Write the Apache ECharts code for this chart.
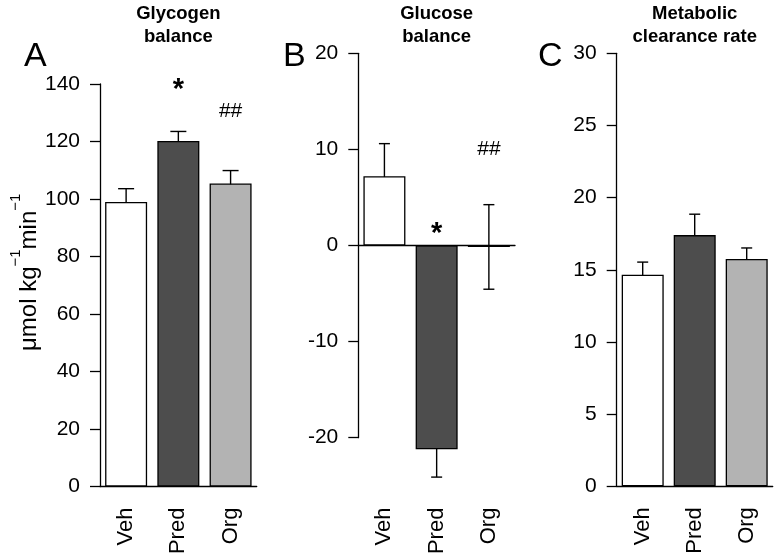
<!DOCTYPE html>
<html>
<head>
<meta charset="utf-8">
<script src="https://cdn.jsdelivr.net/npm/echarts@6/dist/echarts.min.js"></script>
<style>
html,body{margin:0;padding:0;background:#fff;}
#chart{width:778px;height:560px;}
</style>
</head>
<body>
<div id="chart"></div>
<script>
// ---- data ----
const categories = ['Veh', 'Pred', 'Org'];

const glycogenMean = [99, 120.2, 105.4];
const glycogenErr = [4.6, 3.3, 4.5];
const glycogenTicks = [0, 20, 40, 60, 80, 100, 120, 140];
const glycogenSig = ['', '*', '##'];
const glycogenSigY = [null, 140, 130.4];

const glucoseMean = [7.2, -21.2, -0.15];
const glucoseErr = [3.4, 2.9, 4.4];
const glucoseTicks = [-20, -10, 0, 10, 20];
const glucoseSig = ['', '*', '##'];
const glucoseSigY = [null, 1.84, 10.0];

const clearanceMean = [14.65, 17.4, 15.75];
const clearanceErr = [0.88, 1.45, 0.76];
const clearanceTicks = [0, 5, 10, 15, 20, 25, 30];

const panelTitles = ['Glycogen\nbalance', 'Glucose\nbalance', 'Metabolic\nclearance rate'];
const panelLetters = ['A', 'B', 'C'];
const yTitle = ['μmol kg', '−1', 'min', '−1'];

// ---- styles ----
const FONT = '"Liberation Sans", Arial, Helvetica, sans-serif';
const barColors = ['#ffffff', '#4d4d4d', '#b3b3b3'];
const grids = [
  {left: 100, top: 84, width: 156.7, height: 402.6},
  {left: 358.3, top: 53.3, width: 156.7, height: 384.4},
  {left: 616.7, top: 53.3, width: 156, height: 432.9}
];
const gridBottom = 486.6;

function tickAxis(ticks) {
  return {min: ticks[0], max: ticks[ticks.length - 1], interval: ticks[1] - ticks[0]};
}

function yAxisCfg(gi, ticks, extra) {
  return Object.assign({
    type: 'value', gridIndex: gi,
    splitLine: {show: false},
    axisLine: {show: true, lineStyle: {color: '#000', width: 1.3}},
    axisTick: {show: true, length: 10, lineStyle: {color: '#000', width: 1.3}},
    axisLabel: {fontSize: 21, color: '#000', margin: 20, fontFamily: FONT}
  }, tickAxis(ticks), extra || {});
}

const xLabel = {show: true, rotate: 90, fontSize: 22, color: '#000', margin: 21, fontFamily: FONT};

function xAxisCfg(gi, opts) {
  return Object.assign({
    type: 'category', gridIndex: gi, data: categories,
    axisTick: {show: false},
    axisLine: {show: true, lineStyle: {color: '#000', width: 1.3}},
    axisLabel: xLabel
  }, opts || {});
}

function barSeries(xi, yi, means) {
  return {
    type: 'bar', xAxisIndex: xi, yAxisIndex: yi, barWidth: 42, clip: false,
    data: means.map((v, i) => ({value: v, itemStyle: {color: barColors[i]}})),
    itemStyle: {borderColor: '#000', borderWidth: 1.3},
    silent: true
  };
}

function errSeries(xi, yi, means, errs, capW) {
  return {
    type: 'custom', xAxisIndex: xi, yAxisIndex: yi, clip: false, silent: true,
    data: means.map((m, i) => [i, m - errs[i], m + errs[i]]),
    encode: {x: 0, y: [1, 2]},
    renderItem: function (params, api) {
      const x = api.value(0);
      const lo = api.coord([x, api.value(1)]);
      const hi = api.coord([x, api.value(2)]);
      const h = capW / 2;
      const st = {stroke: '#000', lineWidth: 1.4};
      return {type: 'group', children: [
        {type: 'line', shape: {x1: lo[0], y1: lo[1], x2: hi[0], y2: hi[1]}, style: st},
        {type: 'line', shape: {x1: lo[0] - h, y1: lo[1], x2: lo[0] + h, y2: lo[1]}, style: st},
        {type: 'line', shape: {x1: hi[0] - h, y1: hi[1], x2: hi[0] + h, y2: hi[1]}, style: st}
      ]};
    }
  };
}

function sigSeries(xi, yi, sigs, sigY) {
  const items = [];
  sigs.forEach((s, i) => { if (s) items.push([i, sigY[i], s]); });
  return {
    type: 'custom', xAxisIndex: xi, yAxisIndex: yi, clip: false, silent: true,
    data: items.map(d => [d[0], d[1]]),
    renderItem: function (params, api) {
      const p = api.coord([api.value(0), api.value(1)]);
      const s = items[params.dataIndex][2];
      const star = s === '*';
      const fs = star ? 29 : 21;
      return {type: 'text', x: p[0], y: p[1] + (star ? 0.22 * fs : 0), style: {
        text: s, fill: '#000', align: 'center', verticalAlign: 'middle',
        font: (star ? 'bold ' : '') + fs + 'px ' + FONT
      }};
    }
  };
}

const titles = [];
panelTitles.forEach((t, i) => {
  titles.push({
    text: t, left: grids[i].left + grids[i].width / 2, top: 2, textAlign: 'center', padding: 0,
    textStyle: {fontSize: 18.5, fontWeight: 'bold', color: '#000', lineHeight: 23, fontFamily: FONT}
  });
});
const letterLeft = [24, 283, 538];
panelLetters.forEach((t, i) => {
  titles.push({
    text: t, left: letterLeft[i], top: 40, padding: 0,
    textStyle: {fontSize: 34, fontWeight: 'normal', color: '#000', lineHeight: 34, fontFamily: FONT}
  });
});

const option = {
  animation: false,
  backgroundColor: '#fff',
  title: titles,
  grid: grids,
  xAxis: [
    xAxisCfg(0),
    xAxisCfg(1, {axisLabel: {show: false}, axisLine: {show: true, onZero: true, lineStyle: {color: '#000', width: 1.3}}}),
    xAxisCfg(1, {axisLine: {show: false, onZero: false}, position: 'bottom', offset: gridBottom - (grids[1].top + grids[1].height)}),
    xAxisCfg(2)
  ],
  yAxis: [
    yAxisCfg(0, glycogenTicks, {
      name: '{a|' + yTitle[0] + '}{s|' + yTitle[1] + '}{a|' + yTitle[2] + '}{s|' + yTitle[3] + '}',
      nameLocation: 'middle', nameRotate: 90, nameGap: 50,
      nameTextStyle: {
        padding: [0, 0, 0, 26],
        rich: {
          a: {fontSize: 24, lineHeight: 33, verticalAlign: 'bottom', color: '#000', fontFamily: FONT},
          s: {fontSize: 15, lineHeight: 15, verticalAlign: 'top', color: '#000', fontFamily: FONT}
        }
      }
    }),
    yAxisCfg(1, glucoseTicks),
    yAxisCfg(2, clearanceTicks)
  ],
  series: [
    barSeries(0, 0, glycogenMean),
    errSeries(0, 0, glycogenMean, glycogenErr, 16),
    sigSeries(0, 0, glycogenSig, glycogenSigY),
    barSeries(1, 1, glucoseMean),
    errSeries(1, 1, glucoseMean, glucoseErr, 11),
    sigSeries(1, 1, glucoseSig, glucoseSigY),
    barSeries(3, 2, clearanceMean),
    errSeries(3, 2, clearanceMean, clearanceErr, 11)
  ]
};

const chart = echarts.init(document.getElementById('chart'), null, {renderer: 'canvas'});
chart.setOption(option);
</script>
</body>
</html>
